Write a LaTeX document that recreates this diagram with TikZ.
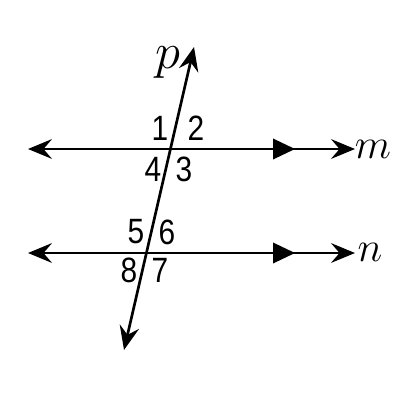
\RequirePackage{fix-cm}
\documentclass[tikz,border=0pt]{standalone}
\usepackage{fontspec}
\newfontfamily\digitfont[FakeStretch=0.85]{Liberation Sans}
\usetikzlibrary{arrows.meta}
\tikzset{
  line/.style={line width=1.9pt,{Stealth[length=17pt,width=14pt,inset=6pt]}-{Stealth[length=17pt,width=14pt,inset=6pt]}},
  parmark/.style={fill=black},
  angnum/.style={font=\digitfont\fontsize{25}{25}\selectfont,inner sep=0pt},
  linename/.style={font=\fontsize{30}{30}\selectfont,inner sep=0pt}
}
\begin{document}
\begin{tikzpicture}[x=0.025cm,y=-0.025cm]
\useasboundingbox (0,0) rectangle (400,400);

%LINE M
\pgfmathsetmacro{\ym}{149}
\pgfmathsetmacro{\yn}{253}
\pgfmathsetmacro{\xl}{28}
\pgfmathsetmacro{\xr}{355}
  \coordinate (ml) at (\xl,\ym);
  \coordinate (mr) at (\xr,\ym);
  \draw[line] (ml) -- (mr);
  \fill[parmark] (273,\ym-10.5) -- (295,\ym) -- (273,\ym+10.5) -- cycle;
  \node[linename] (m) at (373,\ym) {$m$};

%LINE N
  \coordinate (nl) at (\xl,\yn);
  \coordinate (nr) at (\xr,\yn);
  \draw[line] (nl) -- (nr);
  \fill[parmark] (273,\yn-10.5) -- (295,\yn) -- (273,\yn+10.5) -- cycle;
  \node[linename] (n) at (370,\yn-1) {$n$};

%TRANSVERSAL P
  \coordinate (pt) at (194,47);
  \coordinate (pb) at (124,350);
  \draw[line] (pb) -- (pt);
  \node[linename,font=\fontsize{36}{36}\selectfont] (p) at (168,63) {$p$};

%ANGLES
  \node[angnum] (a1) at (160,128) {1};
  \node[angnum] (a2) at (196,128) {2};
  \node[angnum] (a3) at (184,169) {3};
  \node[angnum] (a4) at (153,169) {4};
  \node[angnum] (a5) at (136,232) {5};
  \node[angnum] (a6) at (167,232) {6};
  \node[angnum] (a7) at (160,270) {7};
  \node[angnum] (a8) at (129,270) {8};
\end{tikzpicture}
\end{document}
